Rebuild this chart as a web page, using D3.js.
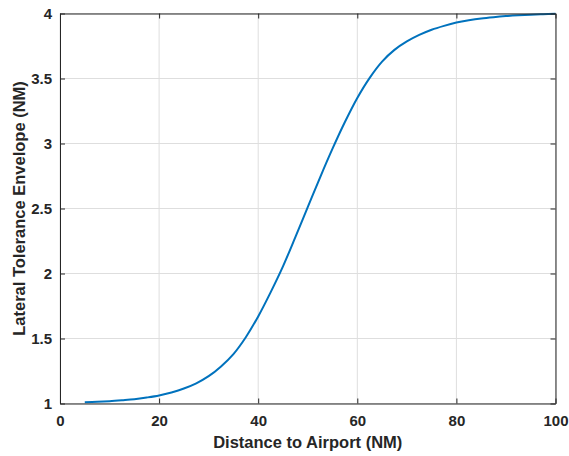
<!DOCTYPE html>
<html>
<head>
<meta charset="utf-8">
<script src="https://cdn.jsdelivr.net/npm/d3@7"></script>
<style>
  html, body { margin: 0; padding: 0; background: #fff; }
  svg { display: block; }
  text { font-family: "Liberation Sans", Arial, Helvetica, sans-serif; font-weight: bold; fill: #262626; }
</style>
</head>
<body>
<svg id="chart" width="569" height="456"></svg>
<script>
// Data
const distance = [5, 7.5, 10, 12.5, 15, 17.5, 20, 22.5, 25, 27.5, 30, 32.5, 35, 37.5, 40, 42.5, 45, 47.5, 50, 52.5, 55, 57.5, 60, 62.5, 65, 67.5, 70, 72.5, 75, 77.5, 80, 82.5, 85, 87.5, 90, 92.5, 95, 97.5, 100];
const envelope = [1.01, 1.013, 1.018, 1.025, 1.033, 1.046, 1.062, 1.085, 1.115, 1.155, 1.21, 1.285, 1.38, 1.51, 1.67, 1.855, 2.055, 2.28, 2.51, 2.74, 2.96, 3.165, 3.35, 3.505, 3.63, 3.72, 3.785, 3.835, 3.875, 3.905, 3.93, 3.948, 3.962, 3.972, 3.98, 3.986, 3.991, 3.995, 3.998];
const xTicks = [0, 20, 40, 60, 80, 100];
const yTicks = [1, 1.5, 2, 2.5, 3, 3.5, 4];
const xLabel = "Distance to Airport (NM)";
const yLabel = "Lateral Tolerance Envelope (NM)";

const svg = d3.select("#chart");
const margin = { left: 60, right: 569 - 555.5, top: 13.5, bottom: 456 - 403.5 };
const W = 569, H = 456;
const x = d3.scaleLinear().domain([0, 100]).range([margin.left, W - margin.right]);
const y = d3.scaleLinear().domain([1, 4]).range([H - margin.bottom, margin.top]);

const axisColor = "#262626";
const gridColor = "#dedede";

// grid
const grid = svg.append("g");
grid.selectAll("line.gx").data(xTicks).join("line")
  .attr("x1", d => x(d)).attr("x2", d => x(d))
  .attr("y1", y(1)).attr("y2", y(4))
  .attr("stroke", gridColor).attr("stroke-width", 1);
grid.selectAll("line.gy").data(yTicks).join("line")
  .attr("y1", d => y(d)).attr("y2", d => y(d))
  .attr("x1", x(0)).attr("x2", x(100))
  .attr("stroke", gridColor).attr("stroke-width", 1);

// line
const line = d3.line()
  .x((d, i) => x(distance[i]))
  .y(d => y(d))
  .curve(d3.curveCatmullRom.alpha(0.5));
svg.append("path")
  .datum(envelope)
  .attr("d", line)
  .attr("fill", "none")
  .attr("stroke", "#0072BD")
  .attr("stroke-width", 2);

// axes (ticks inward)
const fmt = d => String(d);
const tickLen = 5;
const bottomAxis = d3.axisBottom(x).tickValues(xTicks).tickFormat(fmt).tickSizeInner(-tickLen).tickSizeOuter(0).tickPadding(12);
const leftAxis = d3.axisLeft(y).tickValues(yTicks).tickFormat(fmt).tickSizeInner(-tickLen).tickSizeOuter(0).tickPadding(8);
const topAxis = d3.axisTop(x).tickValues(xTicks).tickFormat("").tickSizeInner(-tickLen).tickSizeOuter(0);
const rightAxis = d3.axisRight(y).tickValues(yTicks).tickFormat("").tickSizeInner(-tickLen).tickSizeOuter(0);

function style(g) {
  g.select(".domain").attr("stroke", axisColor).attr("stroke-width", 1);
  g.selectAll(".tick line").attr("stroke", axisColor).attr("stroke-width", 1);
  g.selectAll(".tick text").attr("fill", axisColor).style("font-size", "15px").style("font-weight", "bold")
    .style("font-family", '"Liberation Sans", Arial, sans-serif');
}
svg.append("g").attr("transform", `translate(0,${y(1)})`).call(bottomAxis).call(style);
svg.append("g").attr("transform", `translate(${x(0)},0)`).call(leftAxis).call(style);
svg.append("g").attr("transform", `translate(0,${y(4)})`).call(topAxis).call(style);
svg.append("g").attr("transform", `translate(${x(100)},0)`).call(rightAxis).call(style);

// labels
svg.append("text")
  .attr("x", (x(0) + x(100)) / 2).attr("y", 448)
  .attr("text-anchor", "middle")
  .style("font-size", "16.5px")
  .text(xLabel);
svg.append("text")
  .attr("transform", `translate(25,${(y(1) + y(4)) / 2}) rotate(-90)`)
  .attr("text-anchor", "middle")
  .style("font-size", "16.5px")
  .text(yLabel);
</script>
</body>
</html>
